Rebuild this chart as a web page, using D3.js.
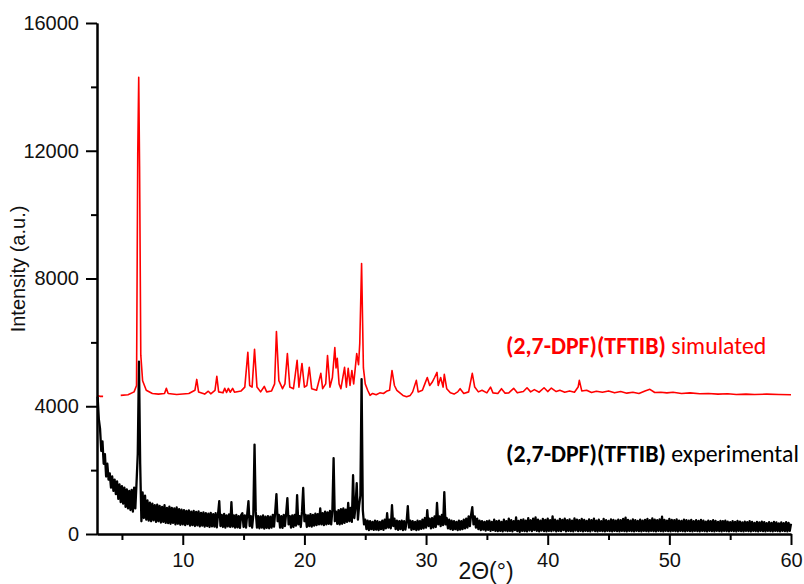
<!DOCTYPE html>
<html>
<head>
<meta charset="utf-8">
<script src="https://cdn.jsdelivr.net/npm/d3@7"></script>
<style>
  body { margin: 0; background: #fff; }
  svg { display: block; }
</style>
</head>
<body>
<script>
// chart size
var width = 804;
var height = 584;

// experimental pattern, 2theta from 3.0 to 60.0 in 0.1 steps
var expStart = 3.0;
var expStep = 0.1;
var expIntensity = [
  4300, 3600, 3300, 2600, 2900, 2200, 2500, 1800, 2200, 1700,
  1900, 1450, 1800, 1350, 1700, 1250, 1650, 1100, 1550, 1000,
  1500, 950, 1450, 850, 1400, 800, 1350, 750, 1380, 700,
  1450, 800, 1600, 2500, 5400, 2200, 400, 1300, 500, 1200,
  450, 1050, 420, 980, 400, 950, 430, 900, 380, 920,
  400, 880, 360, 850, 380, 900, 350, 820, 340, 860,
  320, 820, 350, 800, 300, 830, 320, 780, 290, 760,
  300, 750, 280, 720, 310, 740, 260, 700, 280, 720,
  250, 690, 270, 710, 240, 660, 260, 680, 230, 650,
  250, 640, 220, 660, 240, 620, 230, 650, 210, 620,
  1030, 250, 600, 220, 630, 200, 580, 240, 610, 220,
  1000, 230, 580, 200, 600, 210, 560, 190, 590, 650,
  220, 580, 200, 620, 1030, 250, 560, 200, 600, 2800,
  700, 200, 560, 180, 550, 200, 580, 170, 540, 190,
  560, 180, 540, 200, 600, 230, 700, 1250, 400, 600,
  200, 560, 190, 600, 250, 650, 1125, 300, 560, 200,
  580, 220, 600, 260, 1220, 300, 560, 220, 700, 1440,
  400, 600, 220, 580, 250, 620, 230, 600, 260, 640,
  280, 620, 300, 800, 300, 650, 280, 700, 300, 680,
  320, 720, 300, 750, 2375, 400, 700, 320, 750, 300,
  780, 320, 800, 350, 760, 380, 970, 400, 820, 380,
  1840, 500, 850, 1590, 450, 900, 1200, 4850, 750, 300,
  450, 150, 420, 120, 400, 150, 380, 130, 420, 140,
  400, 120, 380, 150, 420, 130, 450, 180, 650, 200,
  450, 180, 900, 250, 480, 150, 420, 130, 400, 150,
  420, 120, 400, 140, 380, 875, 200, 420, 130, 400,
  150, 380, 120, 420, 140, 400, 160, 450, 180, 500,
  200, 750, 250, 480, 180, 500, 200, 550, 220, 970,
  300, 550, 250, 600, 280, 1310, 300, 500, 180, 450,
  150, 420, 130, 400, 150, 380, 120, 420, 140, 400,
  150, 450, 180, 480, 200, 550, 250, 600, 840, 300,
  550, 200, 480, 150, 420, 120, 400, 140, 380, 110,
  400, 130, 420, 100, 380, 120, 450, 100, 400, 90,
  420, 100, 380, 80, 450, 110, 400, 90, 480, 100,
  430, 80, 400, 120, 520, 90, 410, 70, 440, 100,
  460, 90, 420, 80, 500, 110, 430, 90, 480, 120,
  520, 100, 450, 80, 420, 110, 470, 90, 440, 80,
  480, 100, 430, 90, 550, 110, 450, 80, 420, 100,
  470, 90, 440, 120, 480, 80, 430, 100, 460, 90,
  420, 80, 490, 110, 450, 90, 430, 100, 470, 80,
  440, 100, 410, 90, 460, 80, 430, 110, 480, 90,
  420, 80, 450, 100, 400, 90, 470, 80, 430, 100,
  410, 90, 460, 80, 440, 100, 420, 90, 450, 80,
  430, 100, 470, 90, 510, 80, 440, 100, 420, 90,
  460, 80, 430, 100, 410, 90, 450, 80, 420, 100,
  440, 90, 470, 80, 430, 100, 490, 90, 450, 80,
  430, 100, 460, 90, 540, 80, 440, 100, 420, 90,
  470, 80, 440, 100, 430, 90, 460, 80, 420, 100,
  410, 90, 450, 80, 430, 100, 420, 90, 440, 80,
  400, 100, 430, 90, 410, 80, 440, 100, 420, 90,
  390, 80, 420, 100, 400, 90, 430, 80, 410, 100,
  380, 90, 410, 80, 400, 100, 420, 90, 390, 80,
  370, 100, 400, 90, 380, 80, 410, 100, 390, 90,
  360, 80, 390, 100, 370, 90, 400, 80, 380, 100,
  350, 90, 380, 80, 360, 100, 390, 90, 370, 80,
  340, 100, 370, 90, 350, 80, 380, 100, 360, 90,
  330, 80, 360, 100, 340, 90, 370, 80, 350, 100,
  320
];

// simulated pattern (offset), read as [2theta, intensity]; null = no line
var simAngle = [
  3.0, 3.2, 3.45, 3.5,
  4.9, 5.5, 6.0, 6.2, 6.3, 6.38, 6.45, 6.55, 6.7, 7.0, 7.5, 8.0, 8.5, 8.65, 8.8, 9.5,
  10.5, 11.0, 11.15, 11.3, 11.8, 12.1, 12.3, 12.65, 12.8, 12.95, 13.3, 13.45, 13.6, 13.75, 13.9,
  14.1, 14.25, 14.8, 15.1, 15.35, 15.5, 15.7, 15.9, 16.1, 16.4, 16.7, 16.9, 17.3, 17.55, 17.7,
  17.9, 18.2, 18.4, 18.6, 18.8, 19.1, 19.4, 19.55, 19.8, 20.0, 20.2, 20.4, 20.6, 21.0, 21.35,
  21.5, 21.75, 21.9, 22.1, 22.3, 22.5, 22.6, 22.7, 22.85, 23.0, 23.3, 23.45, 23.6, 23.75, 23.9,
  24.05, 24.3, 24.45, 24.55, 24.7, 24.85, 25.0, 25.2, 25.4, 25.6, 25.9, 26.2, 26.5, 26.8, 27.0,
  27.2, 27.4, 27.6, 27.9, 28.1, 28.4, 28.7, 28.9, 29.2, 29.35, 29.7, 29.9, 30.1, 30.3, 30.5,
  30.7, 30.9, 31.0, 31.2, 31.4, 31.5, 31.7, 32.0, 32.3, 32.6, 32.8, 33.1, 33.5, 33.8, 34.0,
  34.3, 34.6, 35.0, 35.3, 35.5, 35.9, 36.2, 36.5, 36.8, 37.2, 37.5, 38.0, 38.3, 38.6, 38.9,
  39.3, 39.7, 40.0, 40.3, 40.7, 41.0, 41.4, 41.8, 42.2, 42.5, 42.6, 42.8, 43.2, 43.6, 44.0,
  44.5, 45.0, 45.5, 46.0, 46.5, 47.0, 47.5, 48.0, 48.4, 48.8, 49.3, 49.8, 50.3, 51.0, 51.7,
  52.5, 53.2, 54.0, 54.8, 55.5, 56.3, 57.0, 58.0, 59.0, 60.0
];
var simIntensity = [
  4330, 4310, 4310, null,
  4340, 4360, 4450, 4650, 11900, 14300, 11500, 5600, 4800, 4500, 4400, 4380, 4400, 4560, 4400, 4370,
  4400, 4500, 4840, 4450, 4380, 4470, 4390, 4500, 4940, 4450, 4420, 4560, 4430, 4560, 4440,
  4560, 4440, 4480, 4600, 5690, 4650, 4600, 5780, 4600, 4450, 4620, 4450, 4480, 4700, 6340,
  4800, 4550, 4700, 5650, 4600, 4550, 5440, 4600, 5340, 4600, 4650, 5220, 4550, 4500, 5030,
  4550, 4700, 5590, 4600, 4900, 5840, 5200, 5500, 4700, 4550, 5220, 4600, 5190, 4650, 5120,
  4700, 5650, 5300, 5970, 8470, 5200, 4700, 4500, 4340, 4400, 4360, 4420, 4400, 4480, 4500,
  5120, 4650, 4500, 4400, 4340, 4300, 4340, 4450, 4810, 4450, 4500, 4700, 4900, 4650, 4750,
  4900, 5060, 4650, 4900, 4600, 5000, 4550, 4420, 4380, 4450, 4550, 4400, 4450, 5030, 4600,
  4450, 4500, 4420, 4600, 4420, 4400, 4550, 4410, 4420, 4560, 4420, 4460, 4580, 4450, 4520,
  4440, 4580, 4460, 4570, 4460, 4500, 4440, 4480, 4440, 4600, 4810, 4480, 4500, 4430, 4470,
  4440, 4480, 4420, 4460, 4410, 4440, 4400, 4480, 4530, 4430, 4440, 4420, 4440, 4400, 4420,
  4390, 4400, 4380, 4390, 4370, 4380, 4370, 4380, 4370, 4360
];

var yTicks = [0, 4000, 8000, 12000, 16000];
var yMinor = [2000, 6000, 10000, 14000];
var xTicks = [10, 20, 30, 40, 50, 60];
var xMinor = [5, 15, 25, 35, 45, 55];

var labelBold = "(2,7-DPF)(TFTIB)";
var labelSim = " simulated";
var labelExp = " experimental";

// pick the first installed font from a list (canvas width test)
function pickFont(list) {
  var ctx = document.createElement('canvas').getContext('2d');
  var probe = 'mmmwwwlli1160Intensity';
  ctx.font = '60px monospace';
  var m = ctx.measureText(probe).width;
  ctx.font = '60px serif';
  var s = ctx.measureText(probe).width;
  for (var i = 0; i < list.length; i++) {
    ctx.font = '60px "' + list[i] + '", monospace';
    var a = ctx.measureText(probe).width;
    ctx.font = '60px "' + list[i] + '", serif';
    var b = ctx.measureText(probe).width;
    if (a !== m || b !== s) return '"' + list[i] + '"';
  }
  return 'sans-serif';
}
var axisFont = pickFont(['Liberation Sans', 'Arimo', 'Arial', 'Helvetica', 'Nimbus Sans', 'Roboto']);
var labelFont = pickFont(['Carlito', 'Calibri', 'Lato', 'Open Sans']);

var svg = d3.select('body').append('svg')
  .attr('width', width)
  .attr('height', height)
  .style('background', '#fff');

var x = d3.scaleLinear().domain([2.95, 60]).range([97, 791]);
var y = d3.scaleLinear().domain([0, 16000]).range([534, 23]);

var expData = expIntensity.map(function(v, i) {
  return { a: expStart + i * expStep, v: v };
});
var simData = simAngle.map(function(a, i) {
  return { a: a, v: simIntensity[i] };
});

var line = d3.line()
  .defined(function(d) { return d.v !== null; })
  .x(function(d) { return x(d.a); })
  .y(function(d) { return y(d.v); });

svg.append('path')
  .datum(expData)
  .attr('fill', 'none')
  .attr('stroke', '#000')
  .attr('stroke-width', 2.3)
  .attr('stroke-linejoin', 'round')
  .attr('d', line);

svg.append('path')
  .datum(simData)
  .attr('fill', 'none')
  .attr('stroke', '#ff0000')
  .attr('stroke-width', 1.6)
  .attr('stroke-linejoin', 'round')
  .attr('d', line);

// axes
var fmt = d3.format('d');

svg.append('g')
  .attr('transform', 'translate(97,0)')
  .call(d3.axisLeft(y).tickValues(yTicks).tickFormat(fmt).tickSize(11).tickSizeOuter(0).tickPadding(7));
svg.append('g')
  .attr('transform', 'translate(97,0)')
  .call(d3.axisLeft(y).tickValues(yMinor).tickSize(6).tickSizeOuter(0).tickFormat(''));

svg.append('g')
  .attr('transform', 'translate(0,534)')
  .call(d3.axisBottom(x).tickValues(xTicks).tickFormat(fmt).tickSize(11).tickSizeOuter(0).tickPadding(8));
svg.append('g')
  .attr('transform', 'translate(0,534)')
  .call(d3.axisBottom(x).tickValues(xMinor).tickSize(6).tickSizeOuter(0).tickFormat(''));

svg.selectAll('.domain, .tick line')
  .attr('stroke', '#000')
  .attr('stroke-width', 2);
svg.selectAll('g').attr('font-family', null).attr('font-size', null);
svg.selectAll('.tick text')
  .attr('fill', '#111')
  .style('font-family', axisFont)
  .style('font-size', '20px');

// axis titles
svg.append('text')
  .attr('transform', 'translate(25,269) rotate(-90)')
  .attr('text-anchor', 'middle')
  .style('font-family', axisFont)
  .style('font-size', '20px')
  .attr('fill', '#111')
  .text('Intensity (a.u.)');

svg.append('text')
  .attr('x', 486)
  .attr('y', 579)
  .attr('text-anchor', 'middle')
  .style('font-family', axisFont)
  .style('font-size', '23px')
  .attr('fill', '#111')
  .text('2\u0398(\u00b0)');

// series labels
function seriesLabel(yPos, rest, color) {
  var t = svg.append('text')
    .attr('x', 506)
    .attr('y', yPos)
    .attr('fill', color)
    .style('font-family', labelFont)
    .style('font-size', '20px');
  var b = t.append('tspan').style('font-weight', 'bold').text(labelBold);
  t.append('tspan').text(rest);
  // scale font so the bold part spans the same width as in the figure
  var w = b.node().getComputedTextLength();
  t.style('font-size', (20 * 160 / w) + 'px');
  return t;
}
seriesLabel(354, labelSim, '#ff0000');
seriesLabel(462, labelExp, '#000');
</script>
</body>
</html>
